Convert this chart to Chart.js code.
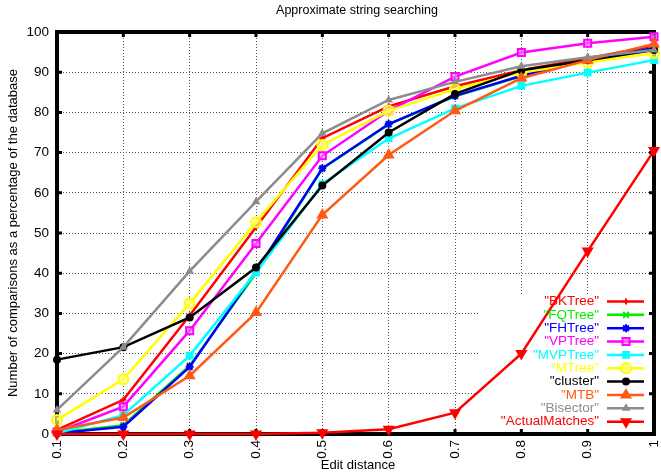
<!DOCTYPE html>
<html>
<head>
<meta charset="utf-8">
<script src="https://cdn.jsdelivr.net/npm/chart.js@4"></script>
<style>
  body { margin: 0; background: #fff; }
  canvas { display: block; }
</style>
</head>
<body>
<canvas id="chart" width="661" height="473"></canvas>
<script>
// x categories (edit distance)
const xLabels = ["0.1", "0.2", "0.3", "0.4", "0.5", "0.6", "0.7", "0.8", "0.9", "1"];

// % of database compared, one array per index structure
const bkTree = [1, 8.5, 29.5, 51.4, 73.6, 81.5, 86.5, 90.5, 93.5, 96.5];
const fqTree = [0.3, 2.2, 17, 40, 66, 77, 84, 89, 93, 96];
const fhTree = [0.2, 1.8, 16.7, 40.5, 66.1, 77.1, 84.1, 89.1, 93, 96];
const vpTree = [0.5, 6.8, 25.7, 47.4, 69.2, 80.4, 88.9, 94.9, 97.2, 98.8];
const mvpTree = [0.2, 4.7, 19.5, 40.2, 62.2, 73.5, 81.0, 86.6, 89.9, 93];
const mTree = [3.5, 13.6, 32.5, 52.7, 71.9, 80.4, 85.8, 89.9, 92.4, 94.7];
const cluster = [18.5, 21.6, 29, 41.4, 61.8, 75, 84.6, 90.5, 93, 95.5];
const mtb = [1, 4.1, 14.5, 30.2, 54.5, 69.4, 80.4, 88.5, 93, 97];
const bisector = [6, 21.6, 40.5, 57.8, 74.8, 83.1, 87.6, 91.5, 93.7, 95.5];
const actualMatches = [0, 0, 0, 0, 0.3, 1.2, 5.3, 20, 45.5, 70.5];

const yTicks = [0, 10, 20, 30, 40, 50, 60, 70, 80, 90, 100];

const FONT = "'Liberation Sans', Arial, Helvetica, sans-serif";

function series(label, data, color, style, radius, fill, rotation) {
  return {
    label,
    data,
    borderColor: color,
    backgroundColor: fill || color,
    pointBorderColor: color,
    pointBackgroundColor: fill || color,
    pointStyle: style,
    pointRadius: radius,
    pointBorderWidth: 2,
    pointRotation: rotation || 0,
    borderWidth: 2.5,
    tension: 0,
    fill: false,
    clip: false
  };
}

const datasets = [
  series('"BKTree"', bkTree, "#ff0000", "cross", 3),
  series('"FQTree"', fqTree, "#00ee00", "crossRot", 4),
  series('"FHTree"', fhTree, "#0000ff", "star", 4),
  series('"VPTree"', vpTree, "#ff00ff", "rect", 5, "rgba(255,140,255,0.6)"),
  series('"MVPTree"', mvpTree, "#00ffff", "rect", 4),
  series('"MTree"', mTree, "#ffff00", "circle", 5, "rgba(255,255,120,0.7)"),
  series('"cluster"', cluster, "#000000", "circle", 3),
  series('"MTB"', mtb, "#ff5a14", "triangle", 5),
  series('"Bisector"', bisector, "#8c8c8c", "triangle", 3),
  series('"ActualMatches"', actualMatches, "#ff0000", "triangle", 5, null, 180)
];
// later series are drawn on top, like gnuplot
datasets.forEach((d, i) => { d.order = datasets.length - i; });

/* ===============================
   frame, key box and texts
================================ */

function keyMarker(ctx, d, x, y) {
  ctx.fillStyle = d.pointBackgroundColor;
  ctx.strokeStyle = d.pointBorderColor;
  ctx.lineWidth = 2;
  Chart.helpers.drawPoint(ctx, {
    pointStyle: d.pointStyle,
    radius: d.pointRadius,
    rotation: d.pointRotation,
    borderWidth: 2
  }, x, y);
}

const gnuplotLook = {
  id: "gnuplotLook",
  beforeDatasetsDraw(chart) {
    const { ctx, chartArea: a, scales } = chart;
    ctx.save();
    // opaque key box hides the grid
    ctx.fillStyle = "#fff";
    ctx.fillRect(478, 295, a.right - 478, a.bottom - 295);

    // thick border
    ctx.strokeStyle = "#000";
    ctx.lineWidth = 4;
    ctx.strokeRect(a.left, a.top, a.right - a.left, a.bottom - a.top);

    // inward tick marks, mirrored
    ctx.lineWidth = 3;
    ctx.beginPath();
    xLabels.forEach((l, i) => {
      const x = scales.x.getPixelForValue(i);
      ctx.moveTo(x, a.bottom); ctx.lineTo(x, a.bottom - 5);
      ctx.moveTo(x, a.top); ctx.lineTo(x, a.top + 5);
    });
    yTicks.forEach(v => {
      const y = scales.y.getPixelForValue(v);
      ctx.moveTo(a.left, y); ctx.lineTo(a.left + 5, y);
      ctx.moveTo(a.right, y); ctx.lineTo(a.right - 5, y);
    });
    ctx.stroke();
    ctx.restore();
  },
  afterDatasetsDraw(chart) {
    const { ctx } = chart;
    ctx.save();
    ctx.fillStyle = "#000";
    ctx.font = "12.5px " + FONT;
    ctx.textAlign = "center";
    ctx.textBaseline = "middle";
    ctx.fillText("Approximate string searching", 357, 11);

    ctx.font = "13px " + FONT;
    ctx.fillText("Edit distance", 358, 465);

    ctx.save();
    ctx.translate(13, 233);
    ctx.rotate(-Math.PI / 2);
    ctx.fillText("Number of comparisons as a percentage of the database", 0, 0);
    ctx.restore();

    // key
    ctx.font = "13.5px " + FONT;
    ctx.textAlign = "right";
    chart.data.datasets.forEach((d, i) => {
      const y = 301.5 + i * 13.35;
      ctx.fillStyle = d.borderColor;
      ctx.fillText(d.label, 599, y);
      ctx.strokeStyle = d.borderColor;
      ctx.lineWidth = 2.5;
      ctx.beginPath();
      ctx.moveTo(607, y);
      ctx.lineTo(644, y);
      ctx.stroke();
      keyMarker(ctx, d, 626, y);
    });
    ctx.restore();
  }
};

new Chart(document.getElementById("chart"), {
  type: "line",
  data: { labels: xLabels, datasets },
  options: {
    responsive: false,
    animation: false,
    layout: { padding: { left: 0, top: 32, right: 3, bottom: 0 } },
    plugins: {
      legend: { display: false },
      title: { display: false },
      tooltip: { enabled: false }
    },
    scales: {
      x: {
        type: "category",
        offset: false,
        afterFit(s) {
          s.height = 39;
          s.paddingLeft = 0;
          s.paddingRight = 0;
        },
        grid: { color: "#555", lineWidth: 1, drawTicks: false },
        border: { display: false, dash: [1, 2] },
        ticks: {
          minRotation: 90,
          maxRotation: 90,
          padding: 6,
          color: "#000",
          font: { family: FONT, size: 13.5 }
        }
      },
      y: {
        min: 0,
        max: 100,
        afterFit(s) {
          s.width = 57;
          s.paddingTop = 0;
          s.paddingBottom = 0;
        },
        afterBuildTicks(s) { s.ticks = yTicks.map(v => ({ value: v })); },
        grid: { color: "#555", lineWidth: 1, drawTicks: false },
        border: { display: false, dash: [1, 2] },
        ticks: {
          padding: 8,
          color: "#000",
          font: { family: FONT, size: 13.5 }
        }
      }
    }
  },
  plugins: [gnuplotLook]
});
</script>
</body>
</html>
